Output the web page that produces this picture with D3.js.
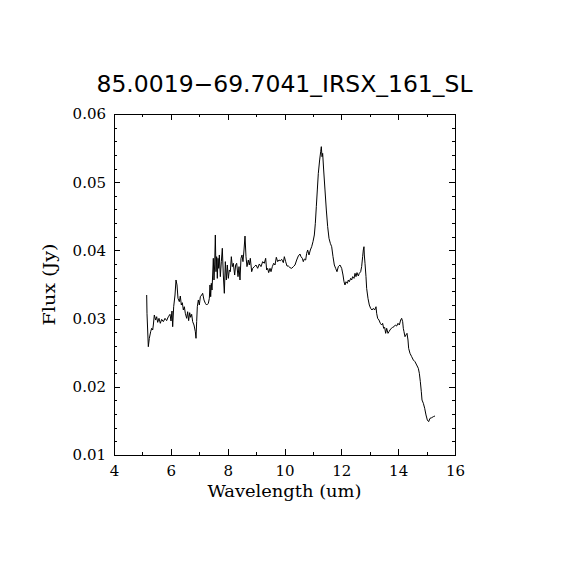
<!DOCTYPE html>
<html>
<head>
<meta charset="utf-8">
<script src="https://cdn.jsdelivr.net/npm/d3@7"></script>
<style>
  body { margin: 0; background: #fff; }
  svg { display: block; }
</style>
</head>
<body>
<div class="chartHolder"></div>
<script>
var titleText = "85.0019\u221269.7041_IRSX_161_SL";
var xLabel = "Wavelength (um)";
var yLabel = "Flux (Jy)";

var xTicks = [4, 6, 8, 10, 12, 14, 16];
var yTicks = [0.01, 0.02, 0.03, 0.04, 0.05, 0.06];

// spectrum (um, Jy)
var wavelength = [
  5.150, 5.161, 5.208, 5.243, 5.290, 5.326, 5.361, 5.384, 5.419, 5.466,
  5.502, 5.537, 5.584, 5.630, 5.678, 5.736, 5.795, 5.853, 5.912, 5.971,
  6.006, 6.041, 6.065, 6.100, 6.147, 6.182, 6.217, 6.252, 6.299, 6.334,
  6.369, 6.404, 6.440, 6.475, 6.510, 6.557, 6.592, 6.627, 6.663, 6.698,
  6.733, 6.768, 6.815, 6.862, 6.886, 6.909, 6.932, 6.968, 7.003, 7.038,
  7.085, 7.120, 7.167, 7.214, 7.261, 7.320, 7.355, 7.378, 7.402, 7.425,
  7.449, 7.472, 7.495, 7.519, 7.542, 7.566, 7.589, 7.613, 7.636, 7.660,
  7.683, 7.707, 7.742, 7.777, 7.812, 7.847, 7.883, 7.918, 7.953, 7.988,
  8.023, 8.059, 8.094, 8.129, 8.164, 8.199, 8.246, 8.281, 8.317, 8.364,
  8.399, 8.434, 8.469, 8.504, 8.539, 8.575, 8.610, 8.645, 8.680, 8.727,
  8.762, 8.797, 8.845, 8.880, 8.938, 8.997, 9.056, 9.114, 9.173, 9.232,
  9.290, 9.337, 9.372, 9.408, 9.443, 9.490, 9.525, 9.572, 9.619, 9.666,
  9.712, 9.760, 9.806, 9.853, 9.900, 9.959, 9.994, 10.041, 10.088, 10.135,
  10.193, 10.252, 10.311, 10.369, 10.428, 10.487, 10.545, 10.581, 10.627, 10.662,
  10.698, 10.745, 10.780, 10.815, 10.862, 10.909, 10.956, 11.003, 11.050, 11.085,
  11.120, 11.155, 11.190, 11.237, 11.273, 11.296, 11.320, 11.343, 11.378, 11.425,
  11.472, 11.519, 11.566, 11.613, 11.660, 11.707, 11.753, 11.800, 11.847, 11.894,
  11.953, 12.012, 12.059, 12.094, 12.129, 12.164, 12.211, 12.246, 12.281, 12.328,
  12.363, 12.398, 12.446, 12.481, 12.516, 12.551, 12.598, 12.633, 12.680, 12.715,
  12.750, 12.774, 12.797, 12.809, 12.833, 12.868, 12.891, 12.938, 12.985, 13.032,
  13.079, 13.126, 13.173, 13.220, 13.243, 13.278, 13.325, 13.372, 13.419, 13.454,
  13.489, 13.525, 13.560, 13.595, 13.642, 13.677, 13.712, 13.759, 13.806, 13.853,
  13.900, 13.947, 13.994, 14.041, 14.088, 14.123, 14.158, 14.181, 14.205, 14.240,
  14.275, 14.311, 14.346, 14.369, 14.416, 14.475, 14.533, 14.592, 14.651, 14.709,
  14.745, 14.780, 14.815, 14.839, 14.886, 14.933, 14.979, 15.026, 15.073, 15.120,
  15.179, 15.237, 15.296
];

var flux = [
  0.03346, 0.03078, 0.02588, 0.02711, 0.02808, 0.02858, 0.02833, 0.02906, 0.03053, 0.02979,
  0.03028, 0.02945, 0.03004, 0.02931, 0.02989, 0.02955, 0.03004, 0.02970, 0.03028, 0.03063,
  0.02965, 0.03111, 0.02881, 0.03174, 0.03346, 0.03566, 0.03493, 0.03297, 0.03248, 0.03331,
  0.03199, 0.03233, 0.03126, 0.03174, 0.03078, 0.03004, 0.03101, 0.02970, 0.03087, 0.03019,
  0.03063, 0.02955, 0.02906, 0.02808, 0.02711, 0.02955, 0.03174, 0.03273, 0.03199, 0.03321,
  0.03346, 0.03371, 0.03273, 0.03224, 0.03199, 0.03224, 0.03297, 0.03493, 0.03321, 0.03517,
  0.03419, 0.03639, 0.03884, 0.03566, 0.03786, 0.04226, 0.03688, 0.03908, 0.03590, 0.03884,
  0.03737, 0.03933, 0.03615, 0.03835, 0.04031, 0.03639, 0.03371, 0.03835, 0.03566, 0.03786,
  0.03590, 0.03713, 0.03688, 0.03908, 0.03762, 0.03811, 0.03639, 0.03786, 0.03811, 0.03615,
  0.03762, 0.03566, 0.03884, 0.03933, 0.03835, 0.04006, 0.04210, 0.03908, 0.03762, 0.03859,
  0.03786, 0.03884, 0.03688, 0.03737, 0.03762, 0.03786, 0.03737, 0.03801, 0.03762, 0.03835,
  0.03811, 0.03884, 0.03713, 0.03737, 0.03674, 0.03737, 0.03688, 0.03762, 0.03811, 0.03786,
  0.03899, 0.03835, 0.03859, 0.03849, 0.03869, 0.03820, 0.03908, 0.03835, 0.03771, 0.03771,
  0.03747, 0.03737, 0.03762, 0.03786, 0.03859, 0.03918, 0.03947, 0.03908, 0.03884, 0.03835,
  0.03874, 0.03859, 0.03957, 0.04006, 0.03933, 0.04006, 0.04054, 0.04128, 0.04226, 0.04397,
  0.04641, 0.04886, 0.05130, 0.05326, 0.05447, 0.05521, 0.05374, 0.05423, 0.05179, 0.04886,
  0.04592, 0.04348, 0.04177, 0.04104, 0.04054, 0.03908, 0.03786, 0.03737, 0.03688, 0.03762,
  0.03786, 0.03737, 0.03639, 0.03541, 0.03493, 0.03541, 0.03517, 0.03566, 0.03541, 0.03590,
  0.03566, 0.03615, 0.03590, 0.03664, 0.03615, 0.03674, 0.03625, 0.03664, 0.03688, 0.03762,
  0.03908, 0.04006, 0.04054, 0.03933, 0.03811, 0.03615, 0.03444, 0.03297, 0.03199, 0.03150,
  0.03126, 0.03150, 0.03126, 0.03174, 0.03078, 0.03004, 0.02979, 0.02931, 0.02906, 0.02931,
  0.02858, 0.02872, 0.02784, 0.02858, 0.02784, 0.02808, 0.02833, 0.02858, 0.02872, 0.02881,
  0.02906, 0.02891, 0.02931, 0.02906, 0.02979, 0.03004, 0.02955, 0.02858, 0.02808, 0.02735,
  0.02760, 0.02784, 0.02686, 0.02564, 0.02491, 0.02442, 0.02393, 0.02368, 0.02320, 0.02271,
  0.02198, 0.02075, 0.01928, 0.01806, 0.01758, 0.01685, 0.01587, 0.01513, 0.01489, 0.01538,
  0.01547, 0.01562, 0.01572
];

var margin = { top: 114, left: 114 };
var width = 341;
var height = 341;

var svg = d3
  .select(".chartHolder")
  .append("svg")
  .attr("width", 570)
  .attr("height", 570);

var plot = svg
  .append("g")
  .attr("transform", "translate(" + margin.left + "," + margin.top + ")");

var xScale = d3.scaleLinear().domain([4, 16]).range([0, width]);
var yScale = d3.scaleLinear().domain([0.01, 0.06]).range([height, 0]);

// minor tick positions
var xMinor = d3.range(4, 16.001, 1);
var yMinor = d3.range(0, 26).map((i) => 0.01 + i * 0.002);

function styleAxis(g) {
  g.select(".domain").remove();
  g.selectAll("line").attr("stroke", "#000").attr("shape-rendering", "crispEdges");
  g.selectAll("text")
    .attr("fill", "#000")
    .style("font-family", "'DejaVu Serif', serif")
    .style("font-size", "15px");
}

// bottom
plot.append("g").attr("transform", "translate(0," + height + ")")
  .call(d3.axisBottom(xScale).tickValues(xMinor).tickSize(-3).tickFormat(""))
  .call(styleAxis);
plot.append("g").attr("transform", "translate(0," + height + ")")
  .call(d3.axisBottom(xScale).tickValues(xTicks).tickSize(-6).tickPadding(10).tickFormat(d3.format("d")))
  .call(styleAxis);
// top
plot.append("g")
  .call(d3.axisTop(xScale).tickValues(xMinor).tickSize(-3).tickFormat(""))
  .call(styleAxis);
plot.append("g")
  .call(d3.axisTop(xScale).tickValues(xTicks).tickSize(-6).tickFormat(""))
  .call(styleAxis);
// left
plot.append("g")
  .call(d3.axisLeft(yScale).tickValues(yMinor).tickSize(-3).tickFormat(""))
  .call(styleAxis);
plot.append("g")
  .call(d3.axisLeft(yScale).tickValues(yTicks).tickSize(-6).tickPadding(8).tickFormat(d3.format(".2f")))
  .call(styleAxis);
// right
plot.append("g").attr("transform", "translate(" + width + ",0)")
  .call(d3.axisRight(yScale).tickValues(yMinor).tickSize(-3).tickFormat(""))
  .call(styleAxis);
plot.append("g").attr("transform", "translate(" + width + ",0)")
  .call(d3.axisRight(yScale).tickValues(yTicks).tickSize(-6).tickFormat(""))
  .call(styleAxis);

// frame
plot.append("rect")
  .attr("x", 0)
  .attr("y", 0)
  .attr("width", width)
  .attr("height", height)
  .attr("fill", "none")
  .attr("stroke", "#000")
  .attr("shape-rendering", "crispEdges");

// spectrum
var line = d3.line()
  .x((d, i) => xScale(wavelength[i]))
  .y((d) => yScale(d));

plot.append("path")
  .datum(flux)
  .attr("d", line)
  .attr("fill", "none")
  .attr("stroke", "#000")
  .attr("stroke-width", 1);

// title
svg.append("text")
  .attr("x", margin.left + width / 2)
  .attr("y", 92)
  .attr("text-anchor", "middle")
  .attr("textLength", 376)
  .attr("lengthAdjust", "spacingAndGlyphs")
  .style("font-family", "'DejaVu Sans', sans-serif")
  .style("font-size", "23px")
  .text(titleText);

// axis titles
svg.append("text")
  .attr("x", margin.left + width / 2)
  .attr("y", 497)
  .attr("text-anchor", "middle")
  .attr("textLength", 154)
  .attr("lengthAdjust", "spacingAndGlyphs")
  .style("font-family", "'DejaVu Serif', serif")
  .style("font-size", "16px")
  .text(xLabel);

svg.append("text")
  .attr("transform", "translate(55," + (margin.top + height / 2) + ") rotate(-90)")
  .attr("text-anchor", "middle")
  .attr("textLength", 82)
  .attr("lengthAdjust", "spacingAndGlyphs")
  .style("font-family", "'DejaVu Serif', serif")
  .style("font-size", "16px")
  .text(yLabel);
</script>
</body>
</html>
